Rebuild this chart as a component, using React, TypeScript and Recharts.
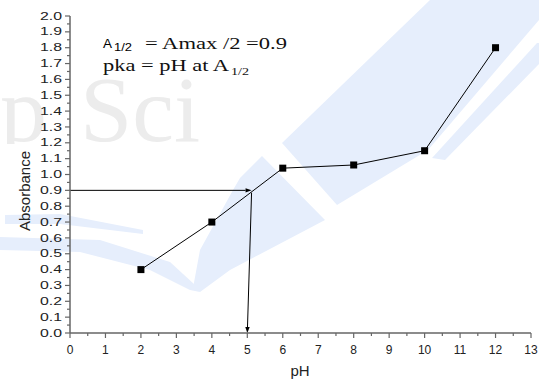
import React from 'react';
import { LineChart, Line, XAxis, YAxis, ReferenceLine, Customized } from 'recharts';

// Absorbance measured at each pH
const pHValues = [2, 4, 6, 8, 10, 12];
const absorbanceValues = [0.4, 0.7, 1.04, 1.06, 1.15, 1.8];

// Axis tick labels (major ticks); minor ticks sit halfway between them
const xTickValues = [0, 1, 2, 3, 4, 5, 6, 7, 8, 9, 10, 11, 12, 13];
const yTickValues = [0, 0.1, 0.2, 0.3, 0.4, 0.5, 0.6, 0.7, 0.8, 0.9, 1.0, 1.1, 1.2, 1.3, 1.4, 1.5, 1.6, 1.7, 1.8, 1.9, 2.0];

// Half-maximum absorbance and the pH where the curve crosses it
const halfAbsorbance = 0.9;
const pKaX = 5.12;
const pKaCurveY = 0.885;
const pKaFootX = 5.0;

const data = pHValues.map((ph, i) => ({ ph, absorbance: absorbanceValues[i] }));

const withMinor = (ticks: number[]) =>
  ticks.flatMap((v, i) =>
    i < ticks.length - 1 ? [v, Math.round(((v + ticks[i + 1]) / 2) * 1000) / 1000] : [v]
  );

const xTicksAll = withMinor(xTickValues);
const yTicksAll = withMinor(yTickValues);

const AXIS = '#666';
const SANS = '"Liberation Sans", Arial, sans-serif';
const SERIF = '"Liberation Serif", "Times New Roman", serif';

const isMajor = (v: number, list: number[]) => list.some((t) => Math.abs(t - v) < 1e-6);

const XTick = (props: any) => {
  const { x, y, payload } = props;
  const v = payload.value;
  const major = isMajor(v, xTickValues);
  return (
    <g>
      <line x1={x} x2={x} y1={y} y2={y + (major ? 5 : 3)} stroke={AXIS} strokeWidth={1.2} />
      {major && (
        <text x={x} y={y + 21} textAnchor="middle" fontSize={12} fontFamily={SANS} fill="#222">
          {v}
        </text>
      )}
    </g>
  );
};

const YTick = (props: any) => {
  const { x, y, payload } = props;
  const v = payload.value;
  const major = isMajor(v, yTickValues);
  return (
    <g>
      <line x1={x} x2={x - (major ? 5 : 3)} y1={y} y2={y} stroke={AXIS} strokeWidth={1.2} />
      {major && (
        <text
          x={x - 30}
          y={y + 3.6}
          fontSize={10}
          fontFamily={SANS}
          fill="#222"
          textLength={22}
          lengthAdjust="spacingAndGlyphs"
        >
          {v.toFixed(1)}
        </text>
      )}
    </g>
  );
};

const SquareDot = (props: any) => {
  const { cx, cy, index } = props;
  if (cx == null || cy == null) return null;
  return <rect key={`sq-${index}`} x={cx - 3.5} y={cy - 3.5} width={7} height={7} fill="#000" />;
};

const ArrowLine = (props: any) => {
  const x1 = Number(props.x1);
  const y1 = Number(props.y1);
  const x2 = Number(props.x2);
  const y2 = Number(props.y2);
  const dx = x2 - x1;
  const dy = y2 - y1;
  const len = Math.hypot(dx, dy) || 1;
  const ux = dx / len;
  const uy = dy / len;
  const head = 6;
  const half = 2.2;
  const bx = x2 - ux * head;
  const by = y2 - uy * head;
  const pts = `${x2},${y2} ${bx - uy * half},${by + ux * half} ${bx + uy * half},${by - ux * half}`;
  return (
    <g>
      <line x1={x1} y1={y1} x2={bx} y2={by} stroke="#000" strokeWidth={1} />
      <polygon points={pts} fill="#000" />
    </g>
  );
};

const Annotations = () => (
  <g>
    <text x={103} y={48} fontSize={13.5} fontFamily={SANS} fill="#000">A</text>
    <text x={114} y={51} fontSize={10} fontFamily={SANS} fill="#000" textLength={18} lengthAdjust="spacingAndGlyphs">1/2</text>
    <text x={145} y={49} fontSize={17} fontFamily={SERIF} fill="#111" textLength={142} lengthAdjust="spacingAndGlyphs">
      = Amax /2 =0.9
    </text>
    <text x={103} y={71} fontSize={17} fontFamily={SERIF} fill="#111" textLength={126} lengthAdjust="spacingAndGlyphs">
      pka = pH at A
    </text>
    <text x={231} y={75} fontSize={11} fontFamily={SERIF} fill="#111" textLength={18} lengthAdjust="spacingAndGlyphs">1/2</text>
    <text x={300} y={376} textAnchor="middle" fontSize={15} fontFamily={SANS} fill="#222">pH</text>
    <text x={30} y={191} transform="rotate(-90, 30, 191)" textAnchor="middle" fontSize={15} fontFamily={SANS} fill="#222">
      Absorbance
    </text>
  </g>
);

const Backdrop = () => (
  <svg width={539} height={380} style={{ position: 'absolute', left: 0, top: 0 }}>
    <defs>
      <clipPath id="wm-clip">
        <rect x={0} y={0} width={539} height={144} />
      </clipPath>
    </defs>
    <g fill="#e6eefc">
      <polygon points="430,0 539,0 539,20 428,150 337,205 282,143" />
      <polygon points="537,43 539,43 539,64 445,160 432,158" />
      <polygon points="262,156 325,220 230,270 200,292 193,288 200,250 233,190 240,178" />
      <polygon points="5,215 60,214 143,230 143,234 60,224 5,224" />
      <polygon points="0,237 100,240 170,262 195,285 200,292 190,290 150,270 80,252 0,250" />
    </g>
    <g clipPath="url(#wm-clip)" fill="#ececec" fontFamily={SERIF} fontSize={94}>
      <text x={0} y={141}>p</text>
      <text x={80} y={141}>Sci</text>
    </g>
  </svg>
);

export default function App() {
  return (
    <div style={{ position: 'absolute', left: 0, top: 0, width: 539, height: 380, background: '#fff' }}>
      <Backdrop />
      <div style={{ position: 'absolute', left: 0, top: 0 }}>
        <LineChart width={539} height={380} data={data} margin={{ top: 16, right: 8, left: 30, bottom: 17 }}>
          <XAxis
            dataKey="ph"
            type="number"
            domain={[0, 13]}
            ticks={xTicksAll}
            interval={0}
            tickSize={0}
            tickMargin={0}
            tickLine={false}
            tick={XTick}
            height={30}
            axisLine={{ stroke: AXIS, strokeWidth: 1.5 }}
          />
          <YAxis
            type="number"
            domain={[0, 2]}
            ticks={yTicksAll}
            interval={0}
            tickSize={0}
            tickMargin={0}
            tickLine={false}
            tick={YTick}
            width={40}
            axisLine={{ stroke: AXIS, strokeWidth: 1.5 }}
          />
          <ReferenceLine
            segment={[{ x: 0, y: halfAbsorbance }, { x: pKaX, y: halfAbsorbance }]}
            stroke="#000"
            ifOverflow="visible"
            shape={ArrowLine}
          />
          <ReferenceLine
            segment={[{ x: pKaX, y: pKaCurveY }, { x: pKaFootX, y: 0 }]}
            stroke="#000"
            ifOverflow="visible"
            shape={ArrowLine}
          />
          <Line
            dataKey="absorbance"
            stroke="#000"
            strokeWidth={1}
            dot={SquareDot}
            activeDot={false}
            isAnimationActive={false}
          />
          <Customized component={Annotations} />
        </LineChart>
      </div>
    </div>
  );
}
